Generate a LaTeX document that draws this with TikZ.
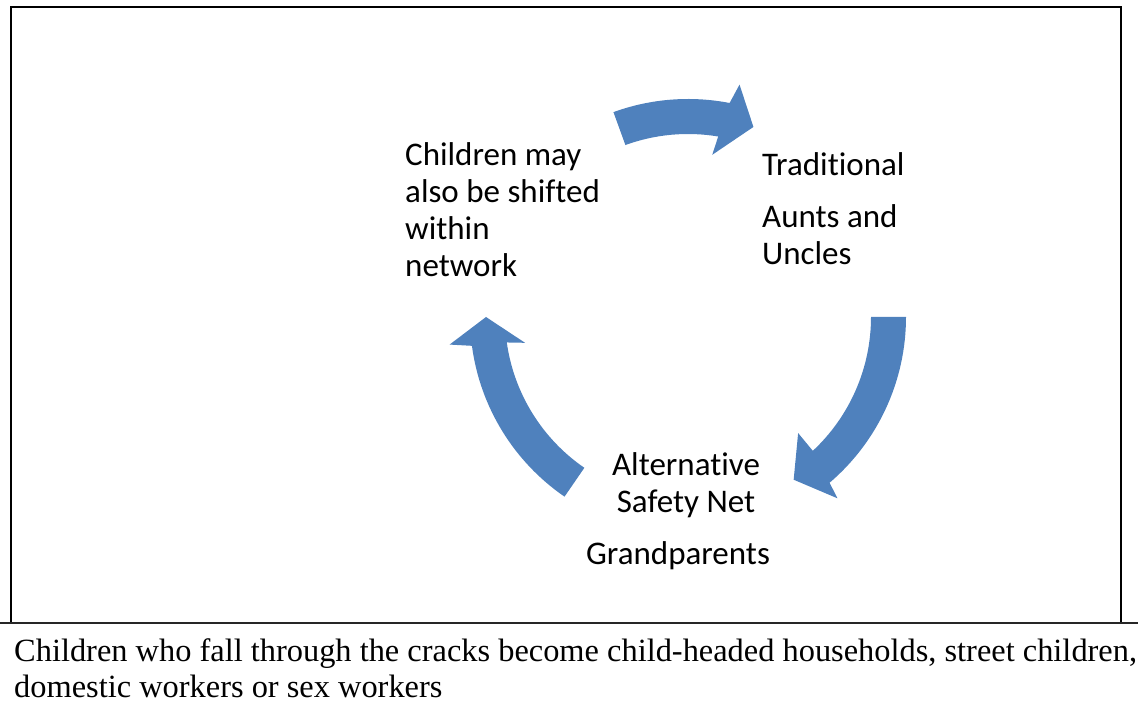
\documentclass[tikz,border=0pt]{standalone}
\usepackage{fontspec}
\setmainfont{Liberation Serif}
\newfontfamily\calibri[Ligatures=NoCommon]{Carlito}
\usetikzlibrary{positioning}

\definecolor{arrowblue}{HTML}{4F81BD}

\tikzset{
	cyctext/.style={font=\calibri\fontsize{33}{37}\selectfont, inner sep=0pt, align=left},
	captext/.style={font=\fontsize{32.4}{36}\selectfont, inner sep=0pt, align=left},
	cycarrow/.style={fill=arrowblue, draw=none}
}

\begin{document}
\begin{tikzpicture}[x=1pt,y=1pt]
	\useasboundingbox (0,0) rectangle (1138,715);

	% frame and rule
	\draw[line width=2.2pt, line join=miter] (11,92) -- (11,708) -- (1121,708) -- (1121,92);
	\draw[line width=1.3pt, black!85] (0,92) -- (1138,92);

	% the three curved arrows
	\coordinate (hub) at (688,398);
	\begin{scope}[shift={(hub)}]
		\fill[cycarrow] (110:218pt) arc[start angle=110, end angle=79, radius=218pt]
			-- (77.5:238pt) -- (71:201pt) -- (81.5:164pt) -- (80.5:183pt)
			arc[start angle=80.5, end angle=110, radius=183pt] -- cycle;
		\fill[cycarrow] (0:218pt) arc[start angle=0, end angle=-49.5, radius=218pt]
			-- (-50.5:235pt) -- (-57:194pt) -- (-46.5:160pt) -- (-47:183pt)
			arc[start angle=-47, end angle=0, radius=183pt] -- cycle;
		\fill[cycarrow] (-124.5:218pt) arc[start angle=-124.5, end angle=-172.4, radius=218pt]
			-- (-173.4:240pt) -- (-180:202pt) -- (-171:165pt) -- (-172:183pt)
			arc[start angle=-172, end angle=-124.5, radius=183pt] -- cycle;
	\end{scope}

	% multi-line nodes sit on the baseline of their last line
	\node[cyctext, anchor=base west] (shift) at (405,438) {Children may\\also be shifted\\within\\network};
	\node[cyctext, anchor=base west] (trad) at (762,539) {Traditional};
	\node[cyctext, anchor=base west] (aunts) at (762,450) {Aunts and\\Uncles};
	\node[cyctext, align=center, anchor=base] (alt) at (686,202) {Alternative\\Safety Net};
	\node[cyctext, anchor=base] (grand) at (678,150) {Grandparents};

	\node[captext, anchor=base west] (cracks) at (14,17) {Children who fall through the cracks become child-headed households, street children,\\domestic workers or sex workers};
\end{tikzpicture}
\end{document}
